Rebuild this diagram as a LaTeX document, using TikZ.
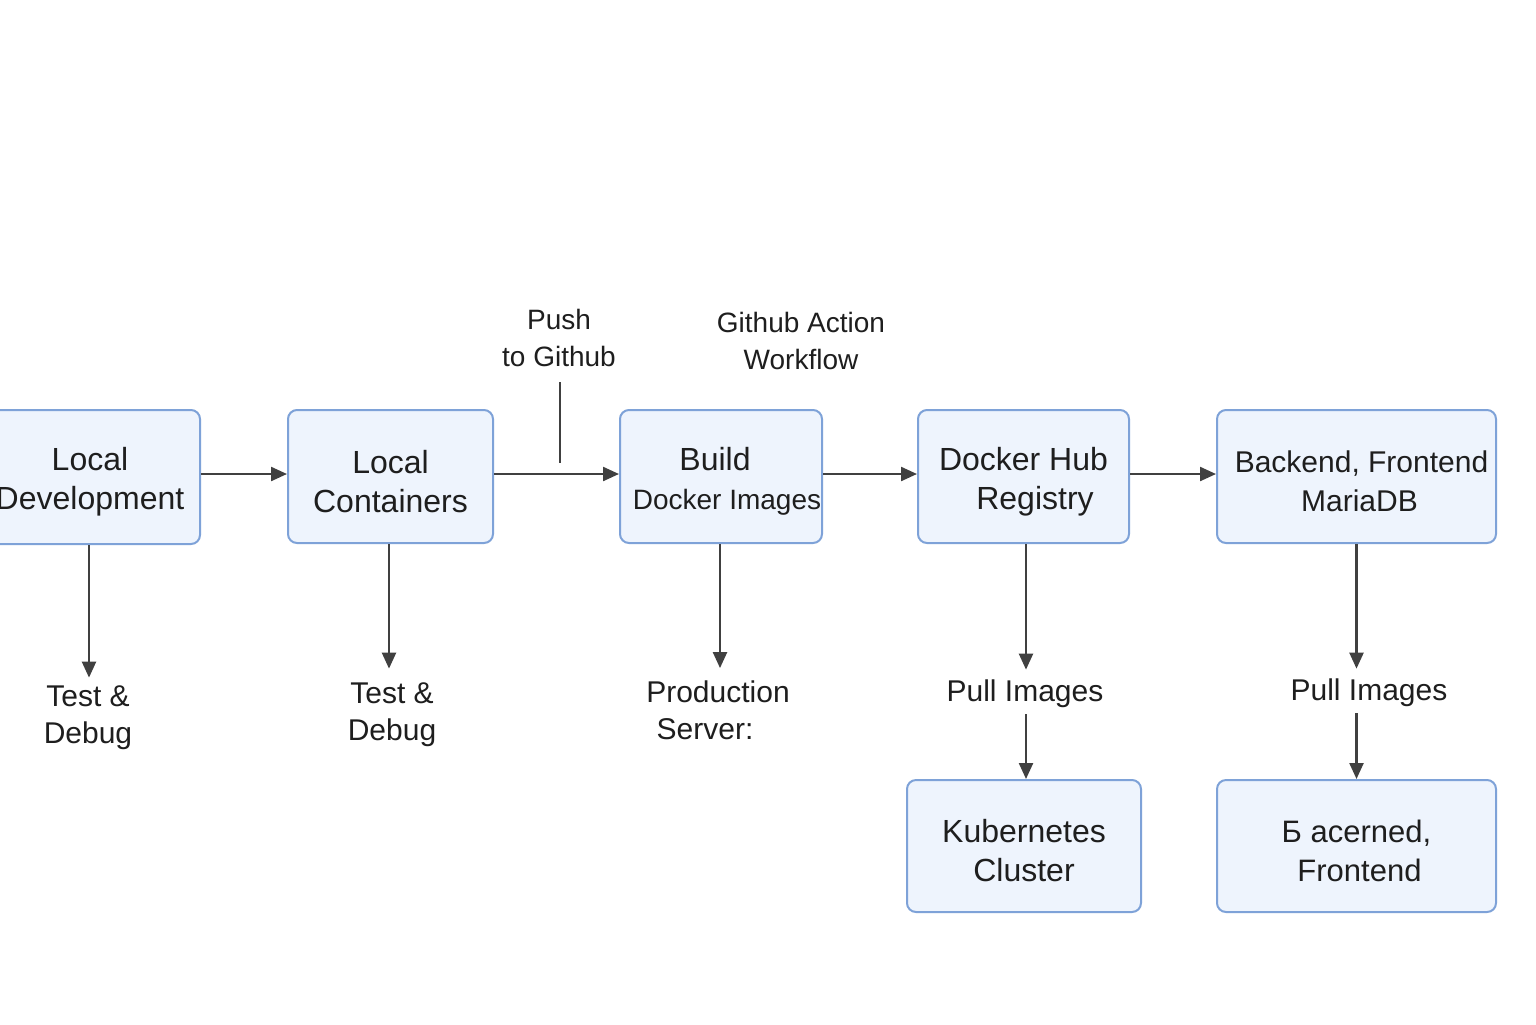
\documentclass[tikz,border=0pt]{standalone}
\usepackage{fontspec}
\setmainfont{Liberation Sans}
\usetikzlibrary{arrows.meta}
\definecolor{boxfill}{HTML}{EEF4FD}
\definecolor{boxline}{HTML}{7EA2D8}
\definecolor{arr}{HTML}{404040}
\definecolor{txt}{HTML}{1E1E1E}
\newcommand{\bxstrut}{\rule{0pt}{16.6pt}}
\begin{document}
\begin{tikzpicture}[x=0.5pt,y=-0.5pt,
  box/.style={draw=boxline, line width=1pt, fill=boxfill, rounded corners=4.5pt,
    align=center, text=txt, inner sep=0pt, font=\fontsize{16}{19.5}\selectfont},
  lbl/.style={align=center, text=txt, inner sep=0pt, font=\fontsize{15}{18.5}\selectfont},
  toplbl/.style={align=center, text=txt, inner sep=0pt, font=\fontsize{14}{18.5}\selectfont},
  arrow/.style={draw=arr, line width=1.15pt, -{Triangle[length=8pt,width=7pt]}},
  plain/.style={draw=arr, line width=1.15pt}]
\useasboundingbox (0,0) rectangle (1536,1024);
\fill[white] (0,0) rectangle (1536,1024);

% boxes
\node[box, minimum width=110pt, minimum height=67pt] (ld) at (90,477) {\bxstrut Local\\Development};
\node[box, minimum width=102.5pt, minimum height=66.5pt] (lc) at (390.5,476.5) {\bxstrut Local\\Containers};
\node[box, minimum width=101pt, minimum height=66.5pt] (bd) at (721,476.5)
  {\bxstrut Build\hspace*{6pt}\\{\fontsize{14}{19.5}\selectfont\hspace*{6pt}Docker Images}};
\node[box, minimum width=105.5pt, minimum height=66.5pt] (dh) at (1023.5,476.5) {\bxstrut Docker Hub\\\hspace*{11.5pt}Registry};
\node[box, minimum width=139.5pt, minimum height=66.5pt, font=\fontsize{15}{19.5}\selectfont] (bf) at (1356.5,476.5) {\rule{0pt}{15.6pt}\hspace*{5pt}Backend, Frontend\\\hspace*{3pt}MariaDB};
\node[box, minimum width=117pt, minimum height=66pt] (kc) at (1024,846) {\bxstrut Kubernetes\\Cluster};
\node[box, minimum width=139.5pt, minimum height=66pt, font=\fontsize{15.5}{19.5}\selectfont] (bf2) at (1356.5,846) {\bxstrut Б acerned,\\\hspace*{3pt}Frontend};

% labels
\node[lbl] (t1) at (88,718) {Test \&\\Debug};
\node[lbl] (t2) at (392,715) {Test \&\\Debug};
\node[lbl] (ps) at (718,710) {Production\\Server:\hspace*{13pt}};
\node[lbl] (pi1) at (1025,694) {Pull Images};
\node[lbl] (pi2) at (1369,693) {Pull Images};
\node[toplbl] (push) at (559,338) {Push\\to Github};
\node[toplbl] (gha) at (801,341) {Github Action\\Workflow};

% push marker line
\coordinate (m1) at (560,382);
\coordinate (m2) at (560,463);
\draw[plain] (m1) -- (m2);

% horizontal arrows
\draw[arrow] ([yshift=1.5pt]ld.east) -- ([yshift=1.5pt]ld.east -| lc.west);
\draw[arrow] ([yshift=1.25pt]lc.east) -- ([yshift=1.25pt]bd.west);
\draw[arrow] ([yshift=1.25pt]bd.east) -- ([yshift=1.25pt]dh.west);
\draw[arrow] ([yshift=1.25pt]dh.east) -- ([yshift=1.25pt]bf.west);

% vertical arrows
\draw[arrow] ([xshift=-0.5pt]ld.south) -- ([xshift=-0.5pt,yshift=4pt]ld.south |- t1.north);
\draw[arrow] ([xshift=-0.75pt]lc.south) -- ([xshift=-0.75pt,yshift=7pt]lc.south |- t2.north);
\draw[arrow] ([xshift=-0.5pt]bd.south) -- ([xshift=-0.5pt,yshift=6pt]bd.south |- ps.north);
\draw[arrow] ([xshift=1.25pt]dh.south) -- ([xshift=1.25pt,yshift=5pt]dh.south |- pi1.north);
\draw[arrow] ([xshift=1.25pt,yshift=-3pt]dh.south |- pi1.south) -- ([xshift=1.25pt]dh.south |- kc.north);
\draw[arrow] (bf.south) -- ([yshift=5pt]bf.south |- pi2.north);
\draw[arrow] ([yshift=-3pt]bf.south |- pi2.south) -- (bf2.north);
\end{tikzpicture}
\end{document}
